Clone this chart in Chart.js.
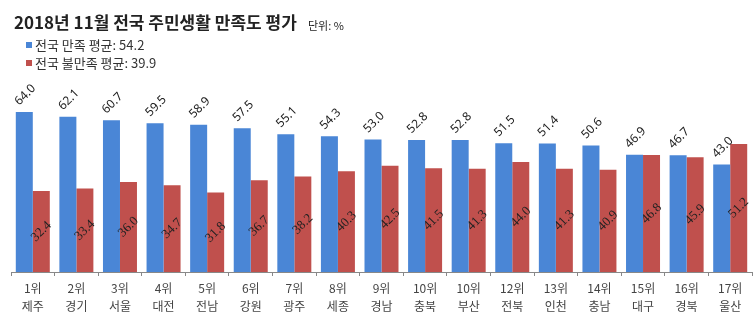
<!DOCTYPE html>
<html>
<head>
<meta charset="utf-8">
<script src="https://cdn.jsdelivr.net/npm/chart.js@4/dist/chart.umd.min.js"></script>
<style>
body{margin:0;background:#fff}
#wrap{position:relative;width:756px;height:322px;font-family:"Noto Sans CJK KR",sans-serif;color:#222}
#chart{position:absolute;left:0;top:0}
.title{position:absolute;left:14px;top:9px;font-size:17px;font-weight:bold;white-space:nowrap}
.unit{position:absolute;left:308px;top:17px;font-size:11px;white-space:nowrap}
.leg{position:absolute;left:26px;font-size:13px;white-space:nowrap;color:#333}
.leg span{display:inline-block;width:6px;height:6px;margin-right:3px;vertical-align:2px}
</style>
</head>
<body>
<div id="wrap">
<canvas id="chart" width="756" height="322"></canvas>
<div class="title">2018년 11월 전국 주민생활 만족도 평가</div>
<div class="unit">단위: %</div>
<div class="leg" style="top:35px"><span style="background:#4a86d6"></span>전국 만족 평균: 54.2</div>
<div class="leg" style="top:53px"><span style="background:#c0504d"></span>전국 불만족 평균: 39.9</div>
</div>
<script>

let ranks=["1위","2위","3위","4위","5위","6위","7위","8위","9위","10위","10위","12위","13위","14위","15위","16위","17위"]
let regions=["제주","경기","서울","대전","전남","강원","광주","세종","경남","충북","부산","전북","인천","충남","대구","경북","울산"]
let satisfied=[64.0,62.1,60.7,59.5,58.9,57.5,55.1,54.3,53.0,52.8,52.8,51.5,51.4,50.6,46.9,46.7,43.0]
let unsatisfied=[32.4,33.4,36.0,34.7,31.8,36.7,38.2,40.3,42.5,41.5,41.3,44.0,41.3,40.9,46.8,45.9,51.2]

let labels=ranks.map((r,i)=>[r,regions[i]])

// value labels, rotated like the original
let valueLabels={
id:"valueLabels",
afterDatasetsDraw(chart){
let ctx=chart.ctx
chart.data.datasets.forEach((ds,di)=>{
let meta=chart.getDatasetMeta(di)
meta.data.forEach((bar,i)=>{
let txt=ds.data[i].toFixed(1)
ctx.save()
if(di==0){
ctx.translate(bar.x+1,bar.y-17)
ctx.font="12px 'Noto Sans', sans-serif"
}else{
ctx.translate(bar.x,(bar.y+bar.base)/2)
ctx.font="13px 'Liberation Serif', serif"
}
ctx.rotate(-Math.PI/4)
ctx.fillStyle="#222"
ctx.textAlign="center"
ctx.textBaseline="middle"
ctx.fillText(txt,0,0)
ctx.restore()
})
})
}
}

let chart=new Chart(document.getElementById("chart"),{
type:"bar",
data:{
labels:labels,
datasets:[{
label:"전국 만족",
data:satisfied,
backgroundColor:"#4a86d6"
},{
label:"전국 불만족",
data:unsatisfied,
backgroundColor:"#c0504d"
}]
},
options:{
responsive:false,
animation:false,
layout:{padding:{top:72,left:11,right:4,bottom:0}},
datasets:{bar:{categoryPercentage:0.78,barPercentage:1.0}},
plugins:{legend:{display:false},tooltip:{enabled:false}},
scales:{
x:{
afterFit:s=>{s.height=50},
grid:{drawOnChartArea:false,tickLength:4,color:"#888"},
border:{color:"#888"},
ticks:{color:"#444",padding:4,font:{family:"'Noto Sans CJK KR', sans-serif",size:12,lineHeight:1.45},maxRotation:0,autoSkip:false}
},
y:{display:false,min:0,max:80}
}
},
plugins:[valueLabels]
})
</script>
</body>
</html>
